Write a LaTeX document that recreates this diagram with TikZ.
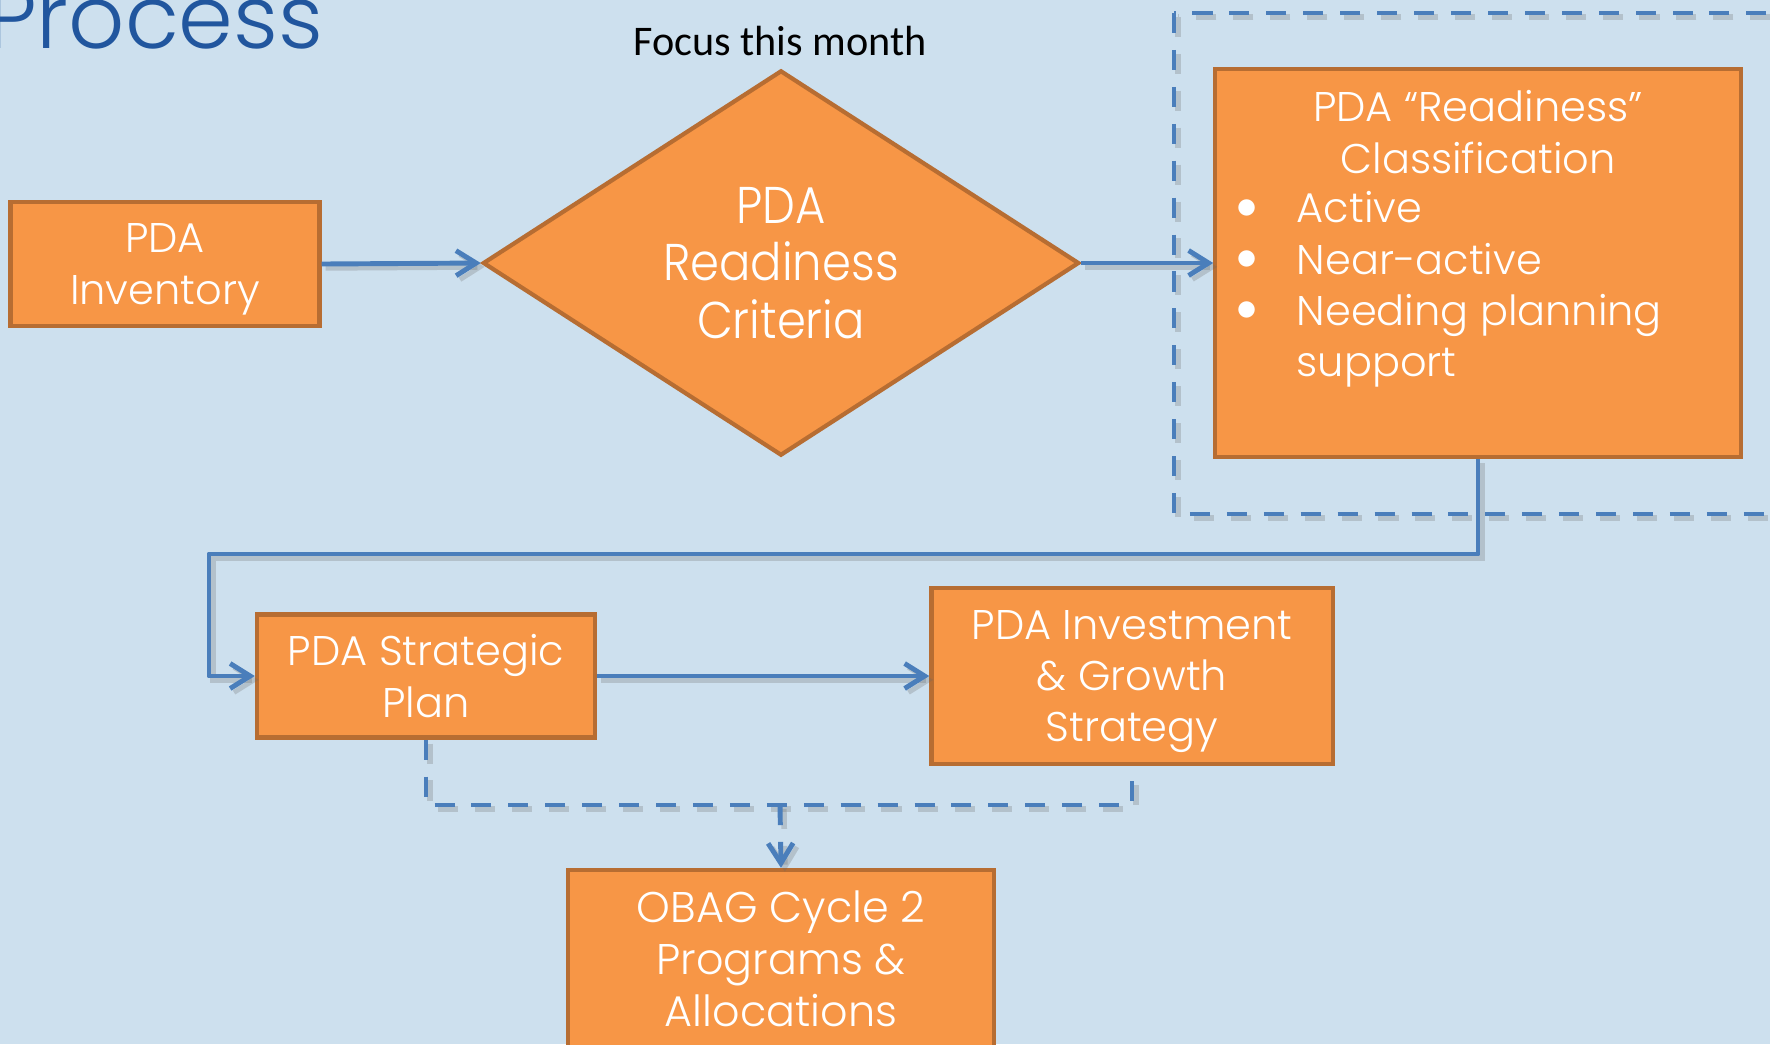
\documentclass[tikz,border=0pt]{standalone}
\usepackage{fontspec}
\setmainfont{Poppins Light}
\newfontfamily\notefont{Carlito}
\newfontfamily\narrowfont[FakeStretch=0.9]{Poppins Light}
\usetikzlibrary{arrows.meta,shapes.geometric}

\definecolor{slidebg}{RGB}{205,224,238}
\definecolor{titleblue}{RGB}{33,86,158}
\definecolor{boxfill}{RGB}{247,150,70}
\definecolor{boxline}{RGB}{183,109,50}
\definecolor{flowblue}{RGB}{74,126,187}

\newcommand{\dotitem}{\raisebox{1.3pt}{$\bullet$}}

\tikzset{
  procbox/.style={draw=boxline,fill=boxfill,line width=1.2pt,text=white,
    align=center,inner sep=0pt,font=\fontsize{11.8}{14.6}\selectfont},
  boxtext/.style={text=white,inner sep=0pt,font=\fontsize{11.8}{14.6}\selectfont},
  shadowed/.style={preaction={draw=black!60,opacity=.25,line width=1.6pt,#1,
    transform canvas={shift={(1.1pt,-1.1pt)}}}},
  shadowed/.default={solid},
  flow/.style={->,draw=flowblue,line width=1.4pt,line join=round,shadowed},
  dashflow/.style={draw=flowblue,line width=1.4pt,dash pattern=on 5.7pt off 4.8pt,
    shadowed={dash pattern=on 5.7pt off 4.8pt}},
}

\begin{document}
\begin{tikzpicture}[x=0.01cm,y=-0.01cm,
    >={Straight Barb[length=2mm,width=2.5mm,line width=1.4pt]}]

  \useasboundingbox[fill=slidebg] (0,0) rectangle (1770,1044);

  \node[anchor=base east,text=titleblue,inner sep=0pt,
    font=\fontsize{25}{25}\selectfont] (title) at (324,48) {Process};
  \node[font=\notefont\fontsize{12}{14}\selectfont,inner sep=0pt] (focus) at (780,41) {Focus this month};

  % dashed frame round the classification step
  \draw[dashflow] (1174,13) rectangle (1800,514);

  \node[procbox,minimum width=3.09cm,minimum height=1.24cm] (inventory) at (165,264) {PDA\\\smash{Inventory}};
  \node[diamond,draw=boxline,fill=boxfill,line width=1.2pt,text=white,align=center,
    inner sep=0pt,aspect=1.55,minimum width=5.96cm,minimum height=3.85cm,
    font=\narrowfont\fontsize{14.7}{16.4}\selectfont] (criteria) at (781,263)
    {PDA\\Readiness\\Criteria};
  \node[procbox,minimum width=5.25cm,minimum height=3.88cm] (classbox) at (1478,263) {};
  \node[boxtext,align=center,anchor=north] (classtitle) at (1478,90)
    {PDA “Readiness”\\Classification};
  \node[boxtext,anchor=north west] (classlist) at (1236,186)
    {\begin{tabular}{@{}p{0.6cm}@{}l@{}}
      \dotitem & Active\\
      \dotitem & Near-active\\
      \dotitem & Needing planning\\
               & support
    \end{tabular}};

  \node[procbox,minimum width=3.38cm,minimum height=1.23cm] (strategic) at (426,676) {PDA Strategic\\Plan};
  \node[procbox,minimum width=4.01cm,minimum height=1.76cm] (investment) at (1132,676) {PDA Investment\\\& Growth\\\smash{Strategy}};
  \node[procbox,minimum width=4.26cm,minimum height=1.78cm,
    font=\fontsize{12.2}{14.8}\selectfont] (obag) at (781,959) {OBAG Cycle 2\\Programs \&\\Allocations};

  \coordinate (turn) at (209,554);
  \coordinate (join) at (780,805);

  \draw[flow] (inventory.east) -- (criteria.west);
  \draw[flow] (criteria.east) -- (classbox.west);
  \draw[flow] (classbox.south) |- (turn) |- (strategic.west);
  \draw[flow] (strategic.east) -- (investment.west);

  \draw[dashflow] (strategic.south) |- (join) -| (investment.south);
  \draw[dashflow,->] (join) -- (obag.north);

\end{tikzpicture}
\end{document}
